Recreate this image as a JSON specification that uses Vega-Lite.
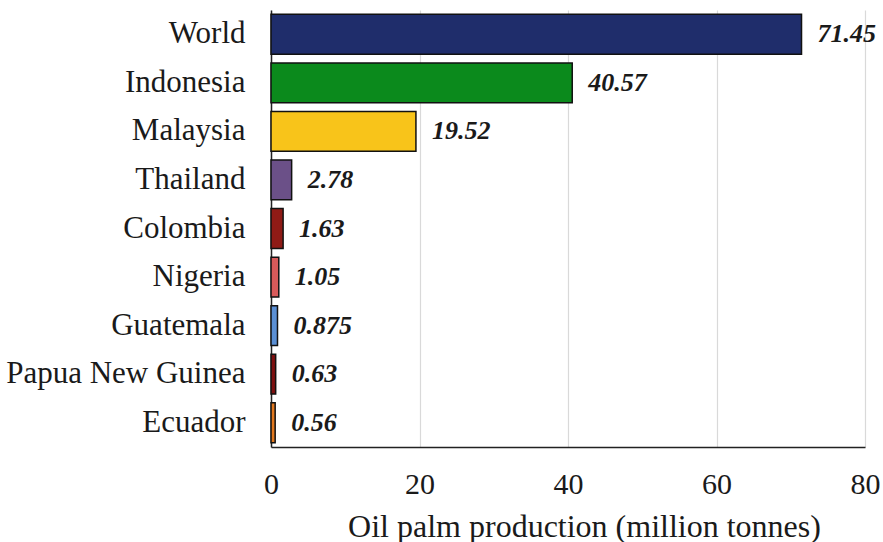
{
  "$schema": "https://vega.github.io/schema/vega-lite/v6.json",
  "width": 594,
  "height": 437,
  "autosize": {"type": "none"},
  "padding": {"left": 271, "top": 10, "right": 18, "bottom": 95},
  "background": "white",
  "data": {
    "values": [
      {"country": "World", "production": 71.45},
      {"country": "Indonesia", "production": 40.57},
      {"country": "Malaysia", "production": 19.52},
      {"country": "Thailand", "production": 2.78},
      {"country": "Colombia", "production": 1.63},
      {"country": "Nigeria", "production": 1.05},
      {"country": "Guatemala", "production": 0.875},
      {"country": "Papua New Guinea", "production": 0.63},
      {"country": "Ecuador", "production": 0.56}
    ]
  },
  "config": {
    "view": {"stroke": null},
    "font": "Liberation Serif"
  },
  "encoding": {
    "y": {
      "field": "country",
      "type": "nominal",
      "sort": null,
      "scale": {"paddingInner": 0.18, "paddingOuter": 0.09},
      "axis": {
        "title": null,
        "ticks": false,
        "labelPadding": 26,
        "labelLimit": 400,
        "labelFont": "Liberation Serif",
        "labelFontSize": 31,
        "labelColor": "#1a1a1a",
        "domainColor": "#222222",
        "domainWidth": 1.5,
        "grid": false
      }
    },
    "x": {
      "field": "production",
      "type": "quantitative",
      "scale": {"domain": [0, 80], "nice": false},
      "axis": {
        "values": [0, 20, 40, 60, 80],
        "title": "Oil palm production (million tonnes)",
        "titleFont": "Liberation Serif",
        "titleFontSize": 32,
        "titleFontWeight": "normal",
        "titleColor": "#1a1a1a",
        "titleBaseline": "alphabetic",
        "titleX": 313,
        "titleY": 89,
        "ticks": false,
        "labelFlush": false,
        "labelPadding": 22,
        "labelFont": "Liberation Serif",
        "labelFontSize": 30,
        "labelColor": "#1a1a1a",
        "domainColor": "#222222",
        "domainWidth": 1.5,
        "grid": true,
        "gridColor": "#d9d9d9",
        "gridWidth": 1.2
      }
    }
  },
  "layer": [
    {
      "mark": {"type": "bar", "stroke": "#111111", "strokeWidth": 1.5},
      "encoding": {
        "color": {
          "field": "country",
          "type": "nominal",
          "legend": null,
          "scale": {
            "domain": ["World", "Indonesia", "Malaysia", "Thailand", "Colombia", "Nigeria", "Guatemala", "Papua New Guinea", "Ecuador"],
            "range": ["#1f2d6b", "#0b8a1c", "#f8c41a", "#6b5088", "#8f1b16", "#d85a5a", "#5a8fd4", "#7e1010", "#e2781e"]
          }
        }
      }
    },
    {
      "mark": {
        "type": "text",
        "align": "left",
        "baseline": "middle",
        "dx": 16,
        "font": "Liberation Serif",
        "fontSize": 26,
        "fontWeight": "bold",
        "fontStyle": "italic",
        "color": "#1a1a1a"
      },
      "encoding": {
        "text": {"field": "production", "type": "quantitative"}
      }
    }
  ]
}
